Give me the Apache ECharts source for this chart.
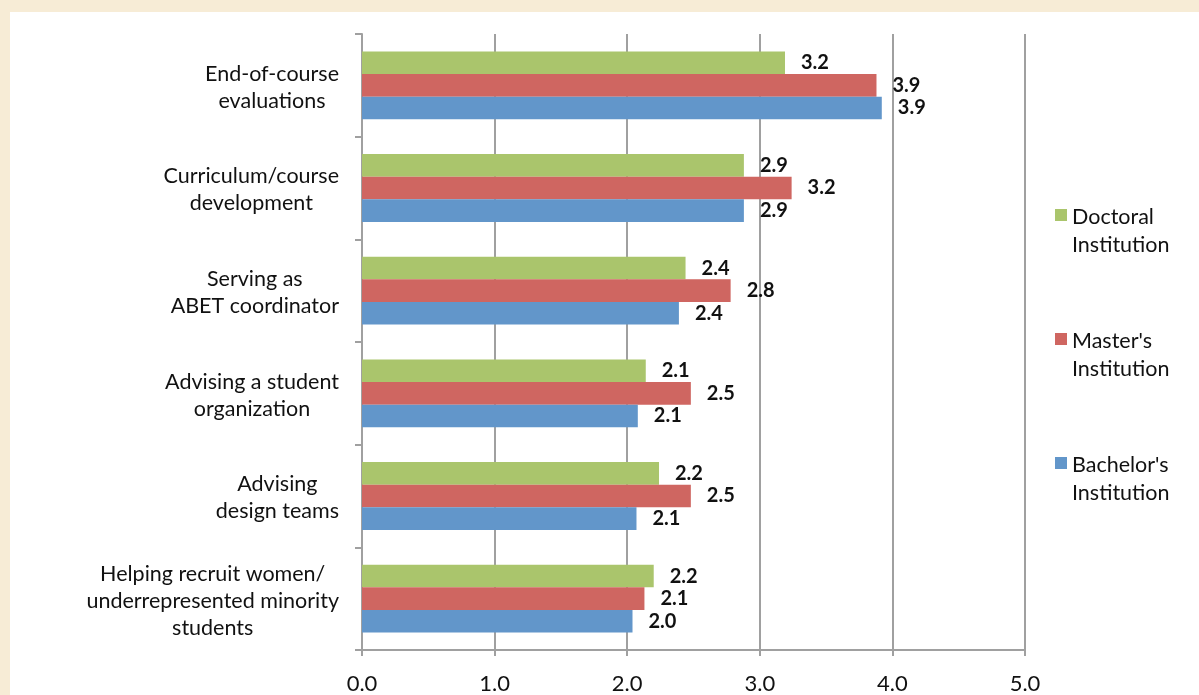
<!DOCTYPE html>
<html>
<head>
<meta charset="utf-8">
<script src="https://cdn.jsdelivr.net/npm/echarts@6/dist/echarts.min.js"></script>
<style>
  html, body { margin: 0; padding: 0; background: #f7ecd6; }
  #chart { width: 1199px; height: 695px; }
</style>
</head>
<body>
<div id="chart"></div>
<script>
// ---- data ----
const categories = [
  'End-of-course\nevaluations',
  'Curriculum/course\ndevelopment',
  'Serving as\nABET coordinator',
  'Advising a student\norganization',
  'Advising\ndesign teams',
  'Helping recruit women/\nunderrepresented minority\nstudents'
];
const seriesNames = ['Doctoral\nInstitution', "Master's\nInstitution", "Bachelor's\nInstitution"];
const doctoral  = [3.19, 2.88, 2.44, 2.14, 2.24, 2.20];
const masters   = [3.88, 3.24, 2.78, 2.48, 2.48, 2.13];
const bachelors = [3.92, 2.88, 2.39, 2.08, 2.07, 2.04];
const xTicks = [0, 1, 2, 3, 4, 5];

const colors = ['#aac56c', '#cf6661', '#6296ca'];
const FONT = 'Lato';

function centeredLines(text) {
  return text.split('\n').map(l => '{c|' + l + '}').join('\n');
}

const seriesData = [doctoral, masters, bachelors];
const series = seriesData.map((vals, i) => ({
  name: seriesNames[i],
  type: 'bar',
  data: vals,
  barGap: '0%',
  barCategoryGap: '34%',
  itemStyle: { color: colors[i] },
  label: {
    show: true,
    position: 'right',
    distance: 16,
    formatter: p => p.value.toFixed(1),
    color: '#111',
    fontFamily: FONT,
    fontWeight: 'bold',
    fontSize: 20
  }
}));

const chart = echarts.init(document.getElementById('chart'), null, { renderer: 'canvas' });
chart.setOption({
  backgroundColor: '#f7ecd6',
  animation: false,
  color: colors,
  graphic: [{
    type: 'rect',
    z: -10,
    silent: true,
    shape: { x: 10, y: 12, width: 1200, height: 700 },
    style: { fill: '#ffffff' }
  }],
  grid: { left: 362, right: 174, top: 34, bottom: 41, containLabel: false },
  legend: {
    orient: 'vertical',
    left: 1055,
    top: 203,
    padding: 0,
    itemGap: 68,
    itemWidth: 12,
    itemHeight: 44,
    icon: 'path://M0,0H12V12H0Z M0,43.9H0.05V44H0Z',
    data: seriesNames,
    textStyle: {
      fontFamily: FONT,
      fontSize: 21.5,
      lineHeight: 28,
      color: '#111'
    }
  },
  xAxis: {
    type: 'value',
    min: xTicks[0],
    max: xTicks[xTicks.length - 1],
    interval: 1,
    axisLine: { show: true, lineStyle: { color: '#a0a0a0', width: 2 } },
    axisTick: { show: true, length: 6, lineStyle: { color: '#a0a0a0', width: 2 } },
    splitLine: { show: true, lineStyle: { color: '#a0a0a0', width: 2 } },
    axisLabel: {
      margin: 23,
      formatter: v => v.toFixed(1),
      fontFamily: FONT,
      fontSize: 22,
      color: '#111'
    }
  },
  yAxis: {
    type: 'category',
    inverse: true,
    data: categories,
    axisLine: { show: true, lineStyle: { color: '#a0a0a0', width: 2 } },
    axisTick: { show: true, length: 7, lineStyle: { color: '#a0a0a0', width: 2 } },
    axisLabel: {
      margin: 23,
      padding: [4, 0, 0, 0],
      formatter: v => centeredLines(v),
      rich: {
        c: { align: 'center', fontFamily: FONT, fontSize: 21.5, lineHeight: 27, color: '#111' }
      }
    }
  },
  series: series
});
</script>
</body>
</html>
